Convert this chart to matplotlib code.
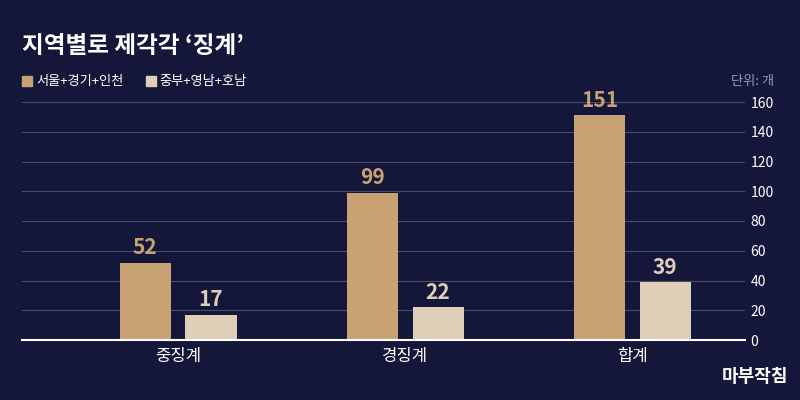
import matplotlib
matplotlib.use("Agg")
import matplotlib.pyplot as plt
import numpy as np

plt.rcParams['font.family'] = ['Noto Sans CJK KR', 'DejaVu Sans']

categories = ['중징계', '경징계', '합계']
series_names = ['서울+경기+인천', '중부+영남+호남']
seoul = [52, 99, 151]
region = [17, 22, 39]
yticks = [0, 20, 40, 60, 80, 100, 120, 140, 160]

bg = '#15173a'
c1 = '#c9a273'
c2 = '#e0cfb8'

fig = plt.figure(figsize=(8, 4), dpi=100, facecolor=bg)
ax = fig.add_axes([0.028, 0.15, 0.903, 0.595], facecolor=bg)
x = np.arange(len(categories))
w = 0.225
b1 = ax.bar(x - 0.145, seoul, w, color=c1, zorder=3)
b2 = ax.bar(x + 0.145, region, w, color=c2, zorder=3)
for bars, vals, col in [(b1, seoul, c1), (b2, region, c2)]:
    for b, v in zip(bars, vals):
        ax.text(b.get_x() + b.get_width()/2, v + 3, str(v), ha='center', va='bottom',
                color=col, fontsize=15, fontweight='bold', zorder=4)
ax.set_xlim(-0.685, 2.495)
ax.set_ylim(0, 160)
ax.set_yticks(yticks)
ax.yaxis.tick_right()
ax.tick_params(axis='y', colors='white', labelsize=10, length=0, pad=4)
ax.set_xticks(x)
ax.set_xticklabels(categories)
ax.tick_params(axis='x', colors='white', labelsize=12, length=0, pad=6)
ax.grid(axis='y', color='#4a4c6a', linewidth=0.8, zorder=0)
for s in ['top', 'right', 'left']:
    ax.spines[s].set_visible(False)
ax.spines['bottom'].set_color('white')
ax.spines['bottom'].set_linewidth(1.5)
ax.spines['bottom'].set_zorder(5)

fig.text(0.028, 0.885, "지역별로 제각각 ‘징계’", color='white', fontsize=17, fontweight='bold', va='center')
fig.patches.append(plt.Rectangle((0.028, 0.785), 0.0125, 0.025, transform=fig.transFigure, color=c1))
fig.text(0.045, 0.797, series_names[0], color='white', fontsize=9.5, va='center')
fig.patches.append(plt.Rectangle((0.182, 0.785), 0.0125, 0.025, transform=fig.transFigure, color=c2))
fig.text(0.199, 0.797, series_names[1], color='white', fontsize=9.5, va='center')
fig.text(0.968, 0.797, '단위: 개', color='#9a9cb0', fontsize=9.5, va='center', ha='right')
fig.text(0.985, 0.06, '마부작침', color='white', fontsize=13, fontweight='bold', ha='right', va='center', style='italic')

fig.savefig('out.png', facecolor=bg)
